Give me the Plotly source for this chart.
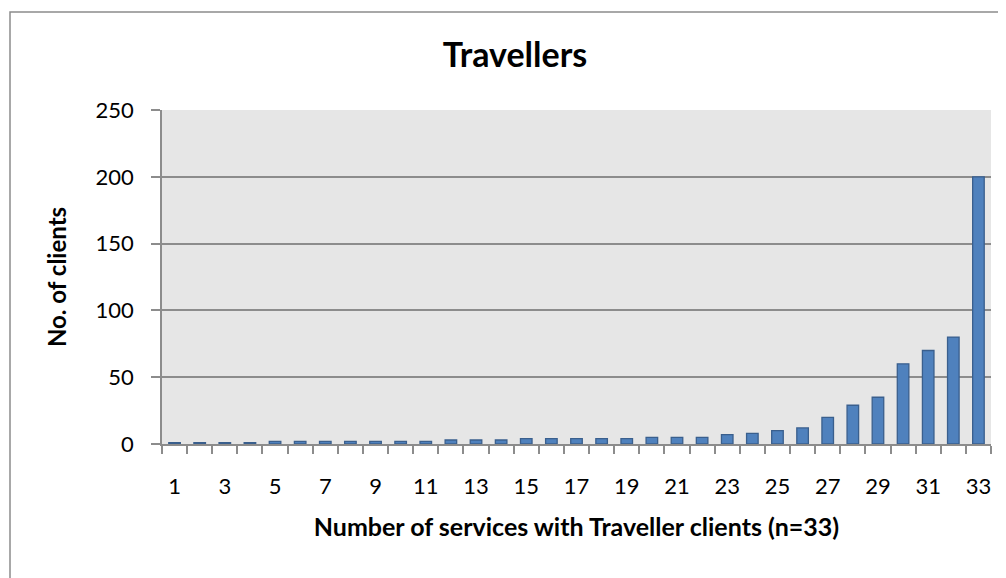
import plotly.graph_objects as go

services = list(range(1, 34))
clients = [1, 1, 1, 1, 2, 2, 2, 2, 2, 2, 2, 3, 3, 3, 4, 4, 4, 4, 4, 5, 5, 5,
           7, 8, 10, 12, 20, 29, 35, 60, 70, 80, 200]
x_tick_labels = [str(v) for v in services[::2]]
y_ticks = [0, 50, 100, 150, 200, 250]

title_text = "Travellers"
x_title = "Number of services with Traveller clients (n=33)"
y_title = "No. of clients"

FONT = "Lato"
GRID = "#8c8c8c"

# page body has an 8px margin; figure sized to fill the remaining window
W, H = 998, 570
L, R, T, B = 154, 15, 102, 134
PW, PH = W - L - R, H - T - B

fig = go.Figure()
fig.add_trace(go.Bar(
    x=services, y=clients,
    marker=dict(color="#4f81bd", line=dict(color="#3a5f8d", width=1.3)),
    hoverinfo="x+y",
))

boundaries = [s - 0.5 for s in services] + [services[-1] + 0.5]

fig.update_layout(
    width=W, height=H,
    margin=dict(l=L, r=R, t=T, b=B),
    paper_bgcolor="white",
    plot_bgcolor="#e6e6e6",
    bargap=0.54,
    showlegend=False,
    font=dict(family=FONT, color="black"),
    title=dict(text="<b>" + title_text + "</b>", x=507 / W, xanchor="center",
               y=1 - 47 / H, yanchor="middle",
               font=dict(family=FONT, size=34, color="black")),
    xaxis=dict(
        range=[0.5, 33.5],
        tickmode="array",
        tickvals=services[::2],
        ticktext=x_tick_labels,
        ticks="",
        ticklabelstandoff=22,
        tickfont=dict(family=FONT, size=22, color="black"),
        showgrid=False,
        zeroline=False,
        showline=True, linecolor=GRID, linewidth=1.5,
        minor=dict(tickmode="array", tickvals=boundaries, ticks="outside",
                   ticklen=8, tickwidth=1.5, tickcolor=GRID, showgrid=False),
        title=dict(text="<b>" + x_title + "</b>",
                   font=dict(family=FONT, size=25, color="black"), standoff=20),
        fixedrange=True,
    ),
    yaxis=dict(
        range=[0, 250],
        tickmode="array",
        tickvals=y_ticks,
        ticks="outside", ticklen=9, tickwidth=1.5, tickcolor=GRID,
        ticklabelstandoff=13,
        tickfont=dict(family=FONT, size=22, color="black"),
        showgrid=True, gridcolor=GRID, gridwidth=1.5,
        zeroline=False,
        showline=True, linecolor=GRID, linewidth=1.5,
        title=dict(text="<b>" + y_title + "</b>",
                   font=dict(family=FONT, size=24, color="black"), standoff=22),
        fixedrange=True,
    ),
)

# outer chart-area border (left and top visible)
fig.add_shape(type="rect", xref="paper", yref="paper",
              x0=(2 - L) / PW, x1=(W + 10 - L) / PW,
              y0=(H - B - (H + 20)) / PH, y1=(H - B - 4) / PH,
              line=dict(color="#8c8c8c", width=1.5), fillcolor="rgba(0,0,0,0)",
              layer="below")

fig.write_html("out.html")
